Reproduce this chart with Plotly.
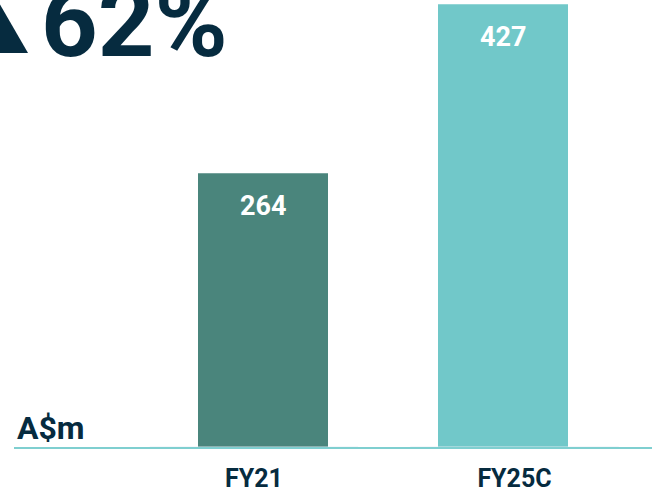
import plotly.graph_objects as go

categories = ["FY21", "FY25C"]
values = [264, 427]
bar_colors = ["#4A857C", "#71C8C9"]
growth_label = "62%"
unit_label = "A$m"

W, H = 652, 492
L, B = 14, 45
PW, PH = W - L, H - B

def px_x(p):
    return (p - L) / PW

def px_y(p):
    return 1 - p / PH

fig = go.Figure()
fig.add_trace(go.Bar(
    x=categories, y=values, marker=dict(color=bar_colors, line=dict(width=0)),
    width=130 / 240, hoverinfo="skip",
))
# invisible trace carrying the category tick labels on an overlaid axis
fig.add_trace(go.Bar(
    x=categories, y=[0, 0], xaxis="x2", marker=dict(color="rgba(0,0,0,0)"),
    hoverinfo="skip",
))

for c, v in zip(categories, values):
    fig.add_annotation(
        x=c, y=v, xref="x", yref="y", text=f"<b>{v}</b>", showarrow=False,
        yanchor="middle", yshift=-33,
        font=dict(family="Roboto", size=27, color="white"),
    )

fig.add_annotation(
    x=px_x(39), y=px_y(82), xref="paper", yref="paper", text=f"<b>{growth_label}</b>",
    showarrow=False, xanchor="left", yanchor="bottom",
    font=dict(family="Roboto", size=99, color="#062B3F"),
)
fig.add_annotation(
    x=px_x(15), y=px_y(449), xref="paper", yref="paper", text=f"<b>{unit_label}</b>",
    showarrow=False, xanchor="left", yanchor="bottom",
    font=dict(family="Roboto", size=32, color="#062B3F"),
)

# growth triangle marker
fig.add_shape(
    type="path", xref="paper", yref="paper",
    path=f"M {px_x(-40)} {px_y(53)} L {px_x(28)} {px_y(53)} L {px_x(-6)} {px_y(-6)} Z",
    fillcolor="#062B3F", line=dict(width=0),
)

s2 = 260.5
fig.update_layout(
    width=W, height=H, margin=dict(l=L, r=0, t=0, b=B),
    paper_bgcolor="white", plot_bgcolor="white", showlegend=False,
    xaxis=dict(
        range=[-249 / 240, PW / 240 - 249 / 240], showgrid=False, zeroline=False,
        showline=True, linecolor="#7FCFD0", linewidth=2, showticklabels=False,
    ),
    xaxis2=dict(
        overlaying="x", side="bottom",
        range=[-240 / s2, PW / s2 - 240 / s2], showgrid=False, zeroline=False,
        showline=False, tickvals=categories, ticktext=[f"<b>{c}</b>" for c in categories],
        ticks="outside", ticklen=9, tickcolor="rgba(0,0,0,0)",
        tickfont=dict(family="Roboto", size=25, color="#062B3F"),
    ),
    yaxis=dict(range=[0, 431], visible=False, showgrid=False, zeroline=False),
)

fig.write_html("out.html")
